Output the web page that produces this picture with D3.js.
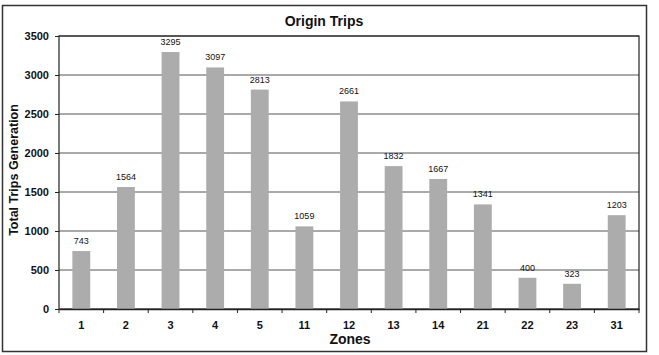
<!doctype html>
<html>
<head>
<meta charset="utf-8">
<script src="https://cdnjs.cloudflare.com/ajax/libs/d3/7.8.5/d3.min.js"></script>
<style>
  body { margin: 0; background: #fff; }
  svg { display: block; font-family: "Liberation Sans", Arial, sans-serif; }
</style>
</head>
<body>
<svg id="chart" width="659" height="355"></svg>
<script>
  var zones = ["1", "2", "3", "4", "5", "11", "12", "13", "14", "21", "22", "23", "31"];
  var trips = [743, 1564, 3295, 3097, 2813, 1059, 2661, 1832, 1667, 1341, 400, 323, 1203];
  var yTicks = [0, 500, 1000, 1500, 2000, 2500, 3000, 3500];

  var svg = d3.select("#chart");
  var margin = {left: 59, top: 36, right: 20, bottom: 46};
  var W = 659, H = 355;

  // outer frame
  svg.append("rect").attr("x", 2.5).attr("y", 5.5).attr("width", 644).attr("height", 346)
    .attr("fill", "none").attr("stroke", "#333").attr("stroke-width", 1.5);

  var x = d3.scaleBand().domain(zones).range([margin.left, W - margin.right]).paddingInner(0.6).paddingOuter(0.3);
  var y = d3.scaleLinear().domain([0, 3500]).range([H - margin.bottom, margin.top]);

  // gridlines
  svg.append("g").selectAll("line").data(yTicks.slice(1)).join("line")
    .attr("x1", margin.left).attr("x2", W - margin.right)
    .attr("y1", d => y(d)).attr("y2", d => y(d))
    .attr("stroke", "#555").attr("stroke-width", 1);

  // plot area frame
  svg.append("rect").attr("x", margin.left).attr("y", margin.top)
    .attr("width", W - margin.right - margin.left).attr("height", y(0) - margin.top)
    .attr("fill", "none").attr("stroke", "#222").attr("stroke-width", 1.2);

  // bars
  svg.append("g").selectAll("rect").data(trips).join("rect")
    .attr("x", (d, i) => x(zones[i]))
    .attr("y", d => y(d))
    .attr("width", x.bandwidth())
    .attr("height", d => y(0) - y(d))
    .attr("fill", "#acacac");

  // value labels
  svg.append("g").selectAll("text").data(trips).join("text")
    .attr("x", (d, i) => x(zones[i]) + x.bandwidth() / 2)
    .attr("y", d => y(d) - 7)
    .attr("text-anchor", "middle")
    .attr("font-size", 9)
    .attr("fill", "#111")
    .text(d => d);

  // y axis
  var yAxis = svg.append("g").attr("transform", "translate(" + margin.left + ",0)")
    .call(d3.axisLeft(y).tickValues(yTicks).tickFormat(d3.format("d")).tickSize(4).tickPadding(6));
  yAxis.select(".domain").remove();
  yAxis.selectAll("line").attr("stroke", "#222");
  yAxis.selectAll("text").attr("font-size", 11).attr("font-weight", "bold").attr("fill", "#111")
    .style("font-family", "'Liberation Sans', Arial, sans-serif");

  // x axis
  var xStep = x.step();
  var xAxis = svg.append("g").attr("transform", "translate(0," + y(0) + ")")
    .call(d3.axisBottom(x).tickSize(0).tickPadding(12));
  xAxis.select(".domain").attr("stroke", "#222").attr("stroke-width", 1.5);
  xAxis.selectAll("text").attr("font-size", 11).attr("font-weight", "bold").attr("fill", "#111")
    .style("font-family", "'Liberation Sans', Arial, sans-serif");
  // category boundary ticks
  xAxis.append("g").selectAll("line").data(d3.range(zones.length + 1)).join("line")
    .attr("x1", i => margin.left + i * xStep).attr("x2", i => margin.left + i * xStep)
    .attr("y1", 0).attr("y2", 4).attr("stroke", "#222");

  // title and axis titles
  svg.append("text").attr("x", 324).attr("y", 26).attr("text-anchor", "middle")
    .attr("font-size", 14).attr("font-weight", "bold").attr("fill", "#111").text("Origin Trips");
  svg.append("text").attr("x", 350).attr("y", 344).attr("text-anchor", "middle")
    .attr("font-size", 14).attr("font-weight", "bold").attr("fill", "#111").text("Zones");
  svg.append("text").attr("transform", "translate(18,170) rotate(-90)")
    .attr("text-anchor", "middle")
    .attr("font-size", 12.5).attr("font-weight", "bold").attr("fill", "#111").text("Total Trips Generation");
</script>
</body>
</html>
